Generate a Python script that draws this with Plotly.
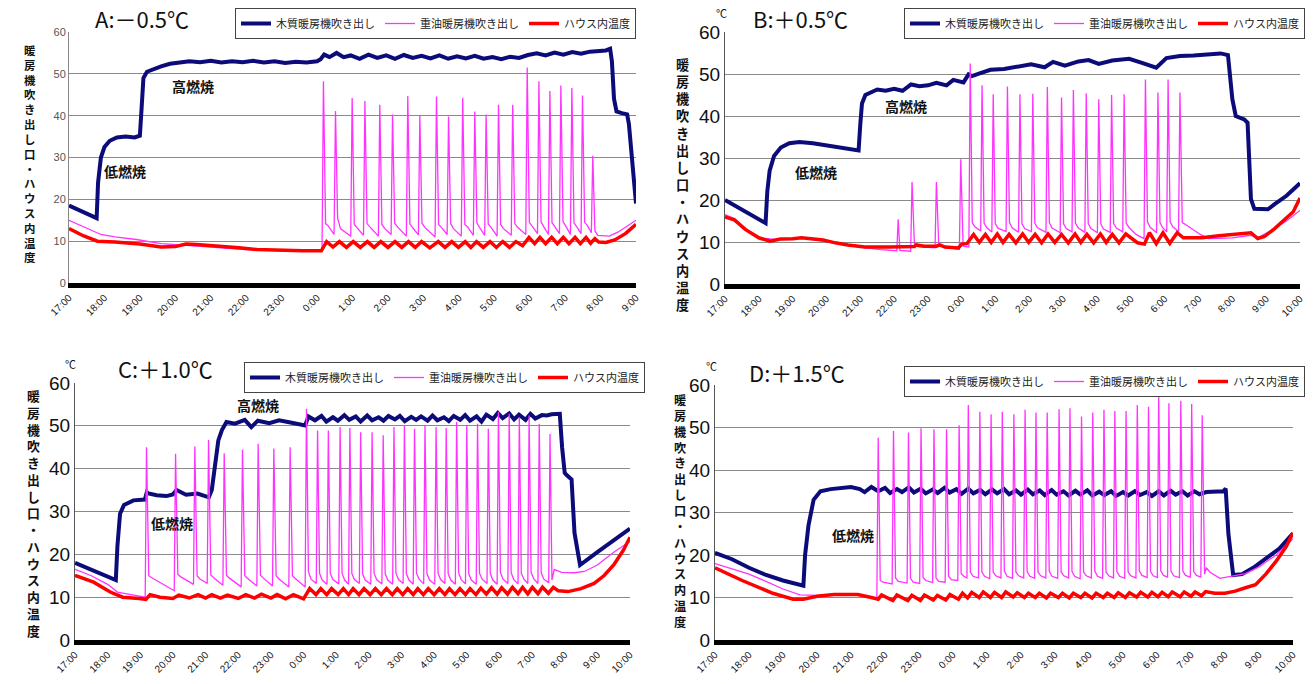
import plotly.graph_objects as go

W, H = 1314, 684

# ---------------- data (hours after 17:00, temperature degC) ----------------
TICKS_A = ["17:00","18:00","19:00","20:00","21:00","22:00","23:00","0:00","1:00","2:00",
           "3:00","4:00","5:00","6:00","7:00","8:00","9:00"]
TICKS_BCD = TICKS_A + ["10:00"]

NAMES = ["木質暖房機吹き出し", "重油暖房機吹き出し", "ハウス内温度"]

A_wood = [(0,18.5),(0.78,15.5),(0.82,24),(0.9,30),(1.0,32.5),(1.15,34.0),(1.35,34.8),(1.6,35.0),(1.85,34.8),(2.0,35.2),
          (2.05,42),(2.1,49),(2.2,50.5),(2.4,51.2),(2.6,51.8),(2.85,52.4),(3.1,52.6),(3.4,53.0),(3.7,52.8),(4.0,53.1),
          (4.3,52.7),(4.6,53.0),(4.9,52.8),(5.2,53.1),(5.5,52.7),(5.8,53.0),(6.1,52.6),(6.4,52.9),(6.7,52.7),(7.0,53.0),
          (7.1,53.5),(7.2,54.6),(7.35,54.0),(7.55,55.0),(7.75,54.0),(7.95,54.4),(8.2,53.6),(8.45,54.6),(8.7,53.8),(8.95,54.4),
          (9.2,53.6),(9.45,54.5),(9.7,53.8),(9.95,54.3),(10.2,53.7),(10.45,54.4),(10.7,53.6),(10.95,54.2),(11.2,53.7),(11.45,54.3),
          (11.7,53.6),(11.95,54.0),(12.2,53.5),(12.45,54.1),(12.7,53.8),(12.95,54.5),(13.2,54.9),(13.45,54.4),(13.7,55.1),(13.95,54.6),
          (14.2,55.2),(14.45,54.8),(14.7,55.3),(14.95,55.4),(15.15,55.6),(15.27,56.0),(15.32,53),(15.38,44),(15.45,41.0),(15.6,40.6),
          (15.75,40.3),(15.8,38),(15.9,27),(16.0,19.0)]
A_oil = [(0,15.0),(0.4,13.5),(0.9,11.6),(1.3,11.0),(1.9,10.4),(2.6,9.4),(3.2,9.1),(4.0,8.6),(5.0,8.0),(6.0,7.7),(7.14,7.6),
         (7.18,48.2),(7.24,14.2),(7.32,13.6),(7.48,11.6),
         (7.52,41.1),(7.58,15.5),(7.66,13.0),(7.95,11.2),
         (7.99,44.2),(8.05,14.0),(8.13,13.2),(8.31,11.4),
         (8.35,43.5),(8.41,14.2),(8.49,13.4),(8.73,11.2),
         (8.77,42.6),(8.83,14.0),(8.91,13.0),(9.09,11.6),
         (9.13,40.3),(9.19,14.3),(9.27,13.4),(9.52,11.2),
         (9.56,44.7),(9.62,14.1),(9.70,13.2),(9.86,11.5),
         (9.90,40.0),(9.96,14.3),(10.04,13.3),(10.33,11.0),
         (10.37,44.6),(10.43,14.0),(10.51,13.3),(10.67,11.6),
         (10.71,39.8),(10.77,14.2),(10.85,13.0),(11.07,11.2),
         (11.11,44.3),(11.17,14.0),(11.25,13.4),(11.41,11.4),
         (11.45,41.0),(11.51,14.4),(11.59,13.2),(11.73,11.4),
         (11.77,40.3),(11.83,14.1),(11.91,13.3),(12.08,11.2),
         (12.12,42.6),(12.18,14.0),(12.26,13.0),(12.48,11.4),
         (12.52,42.6),(12.58,14.2),(12.66,13.3),(12.89,11.6),
         (12.93,51.5),(12.99,14.5),(13.07,13.6),(13.22,11.8),
         (13.26,48.2),(13.32,14.6),(13.40,13.4),(13.53,11.6),
         (13.57,45.9),(13.63,14.4),(13.71,13.5),(13.84,11.8),
         (13.88,47.2),(13.94,14.7),(14.02,13.6),(14.15,11.6),
         (14.19,46.6),(14.25,14.4),(14.33,13.4),(14.45,11.8),
         (14.49,44.8),(14.55,14.5),(14.63,13.7),(14.74,12.0),
         (14.78,30.4),(14.84,12.5),(14.92,11.4),(15.25,11.2),(15.5,12.2),(15.75,13.6),(16.0,15.0)]
A_house = [(0,13.0),(0.4,11.3),(0.8,10.0),(1.3,9.8),(2.0,9.3),(2.6,8.6),(3.0,8.7),(3.3,9.3),(3.6,9.2),(4.2,8.7),
           (4.8,8.4),(5.3,8.0),(6.0,7.8),(6.6,7.7),(7.12,7.7),
           (7.27,9.9),(7.45,8.6),(7.63,9.9),(7.83,8.5),(8.02,9.9),(8.22,8.5),(8.42,9.9),(8.61,8.5),(8.80,9.9),(9.0,8.5),
           (9.20,9.9),(9.39,8.5),(9.58,9.9),(9.77,8.5),(9.95,9.9),(10.18,8.4),(10.42,9.9),(10.61,8.5),(10.80,9.9),(10.99,8.5),
           (11.18,9.9),(11.34,8.5),(11.50,9.9),(11.69,8.5),(11.88,9.9),(12.06,8.5),(12.24,9.9),(12.43,8.5),(12.61,9.9),(12.8,8.9),
           (12.98,10.9),(13.14,9.4),(13.29,10.9),(13.45,9.4),(13.62,10.9),(13.78,9.4),(13.95,10.9),(14.11,9.4),(14.28,10.9),(14.43,9.4),
           (14.59,10.9),(14.72,9.5),(14.84,10.6),(14.95,9.8),(15.15,9.7),(15.4,10.3),(15.7,11.8),(16.0,14.0)]

B_wood = [(0,20.0),(1.2,14.5),(1.25,22),(1.32,27),(1.45,30.5),(1.65,32.5),(1.9,33.5),(2.2,33.8),(2.6,33.5),(3.0,33.0),
          (3.4,32.3),(3.8,31.8),(3.95,31.8),(4.0,38),(4.05,43),(4.15,45.0),(4.3,45.6),(4.5,46.3),(4.75,46.0),(5.0,46.5),
          (5.25,46.0),(5.5,47.5),(5.75,47.1),(6.0,47.3),(6.25,47.9),(6.55,47.3),(6.75,48.6),(7.05,48.0),(7.2,49.9),(7.3,49.5),
          (7.55,50.2),(7.85,51.0),(8.25,51.2),(8.55,51.7),(9.05,52.3),(9.45,51.6),(9.7,52.9),(10.05,52.0),(10.45,53.0),(10.75,53.3),
          (11.05,52.4),(11.45,53.2),(11.95,53.6),(12.35,52.6),(12.75,51.5),(13.05,53.8),(13.45,54.3),(13.85,54.4),(14.25,54.7),(14.65,54.9),
          (14.87,54.5),(15.0,44),(15.1,40),(15.35,39.2),(15.45,38.4),(15.55,20.2),(15.65,17.9),(16.05,17.8),(16.25,19.0),(16.6,21.0),(17.0,24.0)]
B_oil = [(0,16.5),(0.3,15.5),(0.7,12.5),(1.0,11.0),(1.5,10.6),(2.0,10.8),(2.3,11.0),(2.9,10.2),(3.4,9.5),(4.0,8.8),
         (4.6,8.2),(5.08,7.9),(5.12,15.4),(5.17,8.0),(5.49,7.8),(5.53,24.3),(5.6,9.5),(5.7,8.9),(6.21,8.6),(6.25,24.3),
         (6.32,9.3),(6.45,8.8),(6.93,8.3),(6.97,29.7),(7.04,9.0),(7.21,8.8),
         (7.25,52.5),(7.31,14.6),(7.39,13.6),(7.56,12.6),
         (7.60,47.3),(7.66,14.5),(7.74,13.4),(7.89,12.4),
         (7.93,45.2),(7.99,14.4),(8.07,13.3),(8.31,12.5),
         (8.35,47.0),(8.41,14.6),(8.49,13.4),(8.68,12.3),
         (8.72,45.2),(8.78,14.3),(8.86,13.2),(9.06,12.5),
         (9.10,45.3),(9.16,14.5),(9.24,13.4),(9.49,12.3),
         (9.53,46.9),(9.59,14.6),(9.67,13.3),(9.91,12.2),
         (9.95,44.4),(10.01,14.3),(10.09,13.2),(10.26,12.4),
         (10.30,46.2),(10.36,14.5),(10.44,13.4),(10.64,12.3),
         (10.68,45.4),(10.74,14.4),(10.82,13.2),(11.01,12.2),
         (11.05,44.0),(11.11,14.3),(11.19,13.1),(11.39,12.3),
         (11.43,45.0),(11.49,14.4),(11.57,13.3),(11.76,12.4),
         (11.80,45.2),(11.86,14.5),(11.95,13.4),(12.15,11.8),(12.39,10.8),
         (12.43,48.7),(12.49,14.8),(12.57,13.5),(12.76,12.2),
         (12.80,45.6),(12.86,14.6),(12.94,13.4),(13.06,12.4),
         (13.10,48.7),(13.16,14.8),(13.24,13.6),(13.41,12.5),
         (13.45,45.6),(13.52,14.6),(13.65,14.0),(14.05,11.8),(14.3,10.8),(15.0,11.0),(15.55,11.6),(15.75,11.0),
         (16.2,13.0),(16.6,15.0),(17.0,17.5)]
B_house = [(0,16.0),(0.27,15.3),(0.6,13.0),(1.0,11.0),(1.33,10.2),(1.64,10.7),(2.0,10.8),(2.26,11.0),(2.9,10.5),(3.26,9.8),
           (3.63,9.3),(4.13,8.8),(4.88,8.8),(5.37,8.9),(5.6,8.9),(5.65,9.3),(5.9,9.0),(6.25,9.0),(6.35,9.3),(6.5,8.8),
           (6.9,8.6),(7.0,9.5),(7.15,9.6),
           (7.35,11.8),(7.52,9.9),(7.7,11.8),(7.87,9.9),(8.05,11.9),(8.22,9.9),(8.4,11.8),(8.6,9.8),(8.8,11.9),(8.98,9.9),
           (9.17,11.8),(9.36,9.8),(9.55,11.9),(9.75,9.9),(9.95,11.8),(10.15,9.8),(10.35,11.9),(10.52,9.9),(10.7,11.8),(10.9,9.8),
           (11.1,11.9),(11.27,9.9),(11.45,11.8),(11.65,9.8),(11.85,11.9),(12.2,9.8),(12.4,9.5),(12.55,12.2),(12.75,9.6),(12.95,12.2),
           (13.15,9.7),(13.37,12.2),(13.55,11.0),(14.1,11.0),(14.6,11.5),(15.2,12.0),(15.55,12.2),(15.75,10.8),(15.95,11.3),(16.25,13.2),
           (16.5,15.0),(16.8,17.2),(17.0,20.5)]

C_wood = [(0,18.0),(1.25,14.0),(1.3,22),(1.38,29.5),(1.5,31.5),(1.79,32.6),(2.14,32.8),(2.2,34.5),(2.25,34.2),(2.5,33.8),
          (2.8,33.6),(3.0,34.0),(3.11,35.0),(3.4,33.9),(3.75,34.2),(4.1,33.3),(4.19,35.0),(4.29,41),(4.39,46.6),(4.5,49),
          (4.64,50.9),(4.9,50.5),(5.2,51.4),(5.4,49.7),(5.6,51.2),(5.95,50.6),(6.25,51.3),(6.6,50.8),(7.05,50.1),(7.15,52.2),
          (7.35,51.3),(7.55,52.3),(7.7,51.0),(7.9,52.0),(8.05,51.2),(8.25,52.5),(8.4,51.4),(8.6,52.2),(8.75,51.0),(8.95,52.4),
          (9.1,51.3),(9.3,52.0),(9.45,51.2),(9.6,52.3),(9.8,51.5),(9.95,52.3),(10.1,51.1),(10.3,52.1),(10.45,51.4),(10.6,52.2),
          (10.8,51.2),(10.95,52.4),(11.1,51.3),(11.3,52.0),(11.45,51.1),(11.6,52.3),(11.8,51.4),(11.95,52.5),(12.1,51.2),(12.3,52.2),
          (12.45,51.0),(12.6,52.6),(12.8,51.6),(12.95,53.0),(13.1,51.8),(13.3,52.9),(13.45,51.5),(13.6,52.6),(13.8,51.4),(13.95,52.8),
          (14.1,51.7),(14.3,52.5),(14.45,52.4),(14.6,52.7),(14.85,52.8),(14.92,45),(15.0,39),(15.06,38.5),(15.21,37.5),(15.3,25),
          (15.47,17.5),(16.0,20.5),(16.5,23.2),(17.0,26.0)]
C_oil = [(0,16.5),(0.5,15.0),(1.0,13.0),(1.3,11.2),(1.8,10.5),(2.15,10.0),
         (2.19,45.0),(2.26,15.0),(2.34,14.6),(3.04,11.5),
         (3.08,43.5),(3.15,15.3),(3.23,14.8),(3.63,13.0),
         (3.67,45.2),(3.74,15.0),(3.82,14.3),(4.05,13.2),
         (4.09,46.7),(4.16,15.2),(4.24,14.6),(4.53,12.8),
         (4.57,43.6),(4.64,15.1),(4.72,14.5),(5.09,12.4),
         (5.13,44.4),(5.20,15.0),(5.28,14.4),(5.57,12.6),
         (5.61,45.8),(5.68,15.1),(5.76,14.5),(6.05,12.6),
         (6.09,44.7),(6.16,15.0),(6.24,14.3),(6.55,12.4),
         (6.59,45.0),(6.66,15.0),(6.74,14.4),(7.05,12.4),
         (7.09,54.0),(7.15,16.0),(7.23,14.2),(7.39,13.2),
         (7.43,48.9),(7.49,15.6),(7.57,14.0),(7.72,13.0),
         (7.76,48.9),(7.82,15.5),(7.90,14.1),(8.08,13.1),
         (8.12,49.7),(8.18,15.6),(8.26,14.0),(8.38,13.0),
         (8.42,49.5),(8.48,15.5),(8.56,14.1),(8.71,13.2),
         (8.75,48.5),(8.81,15.4),(8.89,14.0),(9.06,13.0),
         (9.10,48.5),(9.16,15.6),(9.24,14.1),(9.40,13.1),
         (9.44,47.8),(9.50,15.5),(9.58,14.0),(9.73,13.0),
         (9.77,49.7),(9.83,15.6),(9.91,14.1),(10.05,13.2),
         (10.09,50.1),(10.15,15.5),(10.23,14.0),(10.36,13.0),
         (10.40,49.3),(10.46,15.6),(10.54,14.2),(10.68,13.1),
         (10.72,50.1),(10.78,15.5),(10.86,14.0),(11.02,13.0),
         (11.06,49.7),(11.12,15.6),(11.20,14.1),(11.33,13.2),
         (11.37,49.5),(11.43,15.5),(11.51,14.0),(11.65,13.0),
         (11.69,50.9),(11.75,15.7),(11.83,14.1),(11.96,13.1),
         (12.00,50.1),(12.06,15.5),(12.14,14.0),(12.29,13.0),
         (12.33,50.5),(12.39,15.6),(12.47,14.2),(12.62,13.2),
         (12.66,49.3),(12.72,15.5),(12.80,14.0),(12.93,13.0),
         (12.97,53.2),(13.03,15.8),(13.11,14.2),(13.26,13.2),
         (13.30,52.8),(13.36,15.7),(13.44,14.1),(13.57,13.1),
         (13.61,52.0),(13.67,15.6),(13.75,14.2),(13.87,13.2),
         (13.91,52.4),(13.97,15.8),(14.05,14.3),(14.18,13.2),
         (14.22,50.5),(14.28,15.7),(14.36,14.2),(14.51,13.4),
         (14.55,48.1),(14.61,14.0),(14.68,16.5),(14.9,15.8),(15.3,15.7),(15.6,16.0),(16.0,17.5),(16.5,20.5),(17.0,23.0)]
C_house = [(0,15.1),(0.57,13.5),(1.08,11.2),(1.46,10.0),(1.97,9.7),(2.17,9.5),
           (2.3,10.6),(2.6,10.0),(3.0,9.7),(3.18,10.5),(3.5,9.8),(3.77,10.6),(4.0,9.8),(4.19,10.6),(4.45,9.8),(4.67,10.5),
           (5.0,9.7),(5.23,10.6),(5.5,9.8),(5.71,10.7),(6.0,9.8),(6.19,10.6),(6.45,9.6),(6.69,10.6),(7.0,9.6),
           (7.19,12.0),(7.38,10.6),(7.53,12.0),(7.71,10.6),(7.86,12.0),(8.06,10.6),(8.22,12.0),(8.38,10.6),(8.52,12.0),(8.7,10.6),
           (8.85,12.0),(9.04,10.6),(9.2,12.0),(9.38,10.6),(9.54,12.0),(9.72,10.6),(9.87,12.0),(10.04,10.6),(10.19,12.0),(10.36,10.6),
           (10.5,12.0),(10.67,10.6),(10.82,12.0),(11.0,10.6),(11.16,12.0),(11.33,10.6),(11.47,12.0),(11.64,10.6),(11.79,12.0),(11.96,10.6),
           (12.1,12.0),(12.28,10.6),(12.43,12.1),(12.6,10.7),(12.76,12.2),(12.93,10.7),(13.07,12.2),(13.25,10.7),(13.4,12.3),(13.57,10.8),
           (13.71,12.3),(13.87,10.8),(14.01,12.3),(14.18,10.8),(14.32,12.3),(14.5,10.9),(14.65,12.3),(14.8,11.5),(15.1,11.3),(15.5,12.0),
           (15.9,13.2),(16.2,15.0),(16.5,17.5),(16.8,21.0),(17.0,24.0)]

D_wood = [(0,20.5),(0.5,19.0),(1.0,17.0),(1.5,15.3),(2.0,14.0),(2.6,12.8),(2.65,20),(2.75,27),(2.9,33),(3.1,35.0),
          (3.4,35.5),(3.7,35.8),(4.0,36.0),(4.26,35.5),
          (4.4,34.8),(4.6,36.0),(4.8,35.0),(5.0,35.8),(5.15,34.6),(5.35,35.5),(5.5,34.8),(5.7,35.9),(5.85,34.7),(6.05,35.6),
          (6.2,34.5),(6.4,35.4),(6.55,34.6),(6.75,35.8),(6.9,34.7),(7.1,35.5),(7.25,34.4),(7.45,35.6),(7.6,34.5),(7.8,35.3),
          (7.95,34.3),(8.15,35.4),(8.3,34.5),(8.5,35.5),(8.65,34.3),(8.85,35.2),(9.0,34.2),(9.2,35.4),(9.35,34.3),(9.55,35.2),
          (9.7,34.1),(9.9,35.3),(10.05,34.2),(10.25,35.0),(10.4,34.0),(10.6,35.1),(10.75,34.2),(10.95,35.2),(11.1,34.0),(11.3,34.9),
          (11.45,34.1),(11.65,35.0),(11.8,33.9),(12.0,34.8),(12.15,34.0),(12.35,35.0),(12.5,34.1),(12.7,34.8),(12.85,33.9),(13.05,35.0),
          (13.2,34.0),(13.4,35.1),(13.55,34.2),(13.75,35.0),(13.9,34.0),(14.1,35.0),(14.25,34.3),(14.45,34.8),(14.7,34.9),(14.95,35.0),
          (15.02,35.6),(15.1,25),(15.24,15.3),(15.5,15.5),(15.83,17.0),(16.32,19.8),(16.6,21.5),(17.0,25.1)]
D_oil = [(0,18.0),(0.5,16.8),(1.0,15.5),(1.5,13.8),(2.0,12.0),(2.5,10.6),(3.0,10.5),(3.5,10.7),(4.2,10.6),(4.6,10.0),(4.76,9.8),
         (4.80,47.6),(4.86,14.0),(4.94,13.6),(5.21,13.2),
         (5.25,49.2),(5.31,14.6),(5.39,13.8),(5.65,13.4),
         (5.69,48.8),(5.75,14.5),(5.83,13.6),(6.02,13.3),
         (6.06,49.8),(6.12,14.7),(6.20,14.0),(6.40,13.5),
         (6.44,49.6),(6.50,14.6),(6.58,13.8),(6.77,13.6),
         (6.81,49.6),(6.87,15.0),(6.95,14.2),(7.14,14.0),
         (7.18,50.5),(7.24,15.6),(7.32,15.0),(7.41,14.6),
         (7.45,55.3),(7.51,16.0),(7.59,15.0),(7.75,14.6),
         (7.79,53.7),(7.85,16.0),(7.93,15.0),(8.08,14.4),
         (8.12,53.1),(8.18,16.0),(8.26,15.1),(8.41,14.6),
         (8.45,53.7),(8.51,16.2),(8.59,15.0),(8.75,14.5),
         (8.79,53.1),(8.85,16.0),(8.93,15.1),(9.08,14.6),
         (9.12,54.2),(9.18,16.1),(9.26,15.0),(9.40,14.5),
         (9.44,53.5),(9.50,16.0),(9.58,15.1),(9.73,14.6),
         (9.77,53.5),(9.83,16.2),(9.91,15.0),(10.08,14.5),
         (10.12,54.3),(10.18,16.0),(10.26,15.1),(10.40,14.6),
         (10.44,54.5),(10.50,16.1),(10.58,15.0),(10.74,14.4),
         (10.78,52.6),(10.84,16.0),(10.92,15.1),(11.07,14.6),
         (11.11,53.5),(11.17,16.2),(11.25,15.0),(11.40,14.5),
         (11.44,54.2),(11.50,16.0),(11.58,15.1),(11.72,14.6),
         (11.76,53.9),(11.82,16.1),(11.90,15.0),(12.05,14.5),
         (12.09,53.9),(12.15,16.0),(12.23,15.1),(12.38,14.6),
         (12.42,55.3),(12.48,16.2),(12.56,15.2),(12.71,14.7),
         (12.75,54.9),(12.81,16.1),(12.89,15.1),(13.01,14.7),
         (13.05,57.5),(13.11,16.3),(13.19,15.2),(13.31,14.8),
         (13.35,55.7),(13.41,16.2),(13.49,15.1),(13.66,14.7),
         (13.70,56.3),(13.76,16.2),(13.84,15.2),(13.98,14.8),
         (14.02,55.5),(14.08,16.1),(14.16,15.2),(14.29,14.8),
         (14.33,52.9),(14.40,15.5),(14.45,17.0),(14.55,16.0),(14.85,14.5),(15.2,15.0),(15.6,15.6),(16.0,17.2),(16.5,20.0),(17.0,23.8)]
D_house = [(0,17.0),(0.8,14.0),(1.7,11.0),(2.3,9.6),(2.6,9.6),(3.0,10.3),(3.5,10.7),(4.2,10.7),(4.6,10.0),(4.8,9.6),
           (4.9,10.6),(5.23,9.3),(5.35,10.6),(5.67,9.3),(5.79,10.5),(6.04,9.3),(6.16,10.6),(6.42,9.4),(6.54,10.5),(6.79,9.4),
           (6.91,10.7),(7.16,9.6),(7.28,11.0),(7.43,9.9),(7.55,11.2),(7.77,10.0),(7.89,11.3),(8.1,10.0),(8.22,11.2),(8.43,10.0),
           (8.55,11.3),(8.77,10.1),(8.89,11.1),(9.1,10.0),(9.22,11.0),(9.42,10.0),(9.54,11.0),(9.75,9.9),(9.87,11.0),(10.1,10.0),
           (10.22,11.0),(10.42,9.9),(10.54,11.0),(10.76,10.0),(10.88,11.0),(11.09,9.9),(11.21,11.0),(11.42,10.0),(11.54,11.0),(11.74,10.0),
           (11.86,11.1),(12.07,10.0),(12.19,11.1),(12.4,10.1),(12.52,11.2),(12.73,10.1),(12.85,11.2),(13.03,10.2),(13.15,11.2),(13.33,10.2),
           (13.45,11.3),(13.68,10.2),(13.8,11.3),(14.0,10.3),(14.12,11.3),(14.31,10.4),(14.43,11.4),(14.7,11.0),(15.0,11.0),(15.3,11.5),
           (15.6,12.3),(15.9,13.0),(16.2,15.5),(16.5,18.5),(16.8,22.0),(17.0,25.2)]

# ---------------- styling / layout ----------------
FONT = "Noto Sans CJK JP"
NUMFONT = "Liberation Sans"
COLORS = ["#0b0b7a", "#ff33ff", "#ff0000"]
WIDTHS = [4, 1.3, 3.5]

def px(x):
    return x / W

def py(y):
    return 1 - y / H

panels = [
    ("A", (A_wood, A_oil, A_house), "x", "y", "legend", 69, 636, 32, 283, 16, TICKS_A,
     dict(size=11, color="#555", family=NUMFONT), "#888"),
    ("B", (B_wood, B_oil, B_house), "x2", "y2", "legend2", 725, 1300, 32, 284, 17, TICKS_BCD,
     dict(size=19, color="#111", family=NUMFONT), "#555"),
    ("C", (C_wood, C_oil, C_house), "x3", "y3", "legend3", 75, 630, 383, 640, 17, TICKS_BCD,
     dict(size=19, color="#111", family=NUMFONT), "#555"),
    ("D", (D_wood, D_oil, D_house), "x4", "y4", "legend4", 715, 1293, 385, 640, 17, TICKS_BCD,
     dict(size=19, color="#111", family=NUMFONT), "#555"),
]

fig = go.Figure()
layout = dict(
    width=W, height=H, margin=dict(l=0, r=0, t=0, b=0, autoexpand=False),
    paper_bgcolor="white", plot_bgcolor="white",
    font=dict(family=FONT, color="#111"),
    showlegend=True,
)

legend_pos = {
    "legend": (636, 8),
    "legend2": (1305, 8),
    "legend3": (645, 362),
    "legend4": (1305, 366),
}

for key, series, xa, ya, leg, l, r, t, b, hours, ticks, ytf, axcol in panels:
    for i in (0, 1, 2):
        xs, ys = zip(*series[i])
        fig.add_trace(go.Scatter(
            x=list(xs), y=list(ys), mode="lines", name=NAMES[i],
            line=dict(color=COLORS[i], width=WIDTHS[i]),
            xaxis=xa, yaxis=ya, legend=leg, hoverinfo="skip",
        ))
    xname = "xaxis" if xa == "x" else "xaxis" + xa[1:]
    yname = "yaxis" if ya == "y" else "yaxis" + ya[1:]
    layout[xname] = dict(
        domain=[px(l), px(r)], anchor=ya, range=[0, hours],
        tickmode="array", tickvals=list(range(hours + 1)), ticktext=ticks,
        tickangle=-45, tickfont=dict(size=10, color="#111", family=NUMFONT),
        showgrid=False, zeroline=False, showline=True, linecolor="black", linewidth=5,
        ticks="", fixedrange=True, automargin=False,
    )
    layout[yname] = dict(
        domain=[py(b), py(t)], anchor=xa, range=[0, 60], dtick=10,
        tickfont=ytf, showgrid=True, gridcolor="#8a8a8a", gridwidth=1,
        zeroline=False, showline=True, linecolor=axcol, linewidth=1, ticks="",
        fixedrange=True, automargin=False,
    )
    lx, ly = legend_pos[leg]
    layout[leg] = dict(
        x=px(lx), y=py(ly), xanchor="right", yanchor="top", xref="paper", yref="paper",
        orientation="h", bgcolor="white", bordercolor="#444", borderwidth=1,
        font=dict(size=11, family=FONT, color="#222"), itemwidth=30, tracegroupgap=0,
    )

annotations = []

def ann(x, y, text, size, bold=False, color="#111", family=FONT):
    annotations.append(dict(
        x=px(x), y=py(y), xref="paper", yref="paper", showarrow=False,
        text=("<b>%s</b>" % text) if bold else text,
        font=dict(size=size, color=color, family=family), xanchor="center", yanchor="middle",
    ))

# panel titles
ann(142, 18, "A:－0.5℃", 22)
ann(800, 18, "B:＋0.5℃", 22)
ann(165, 368, "C:＋1.0℃", 22)
ann(797, 372, "D:＋1.5℃", 22)
# degree units (superscript beside the 60 label)
ann(721, 13, "℃", 11)
ann(70, 364, "℃", 11)
ann(711, 366, "℃", 11)
# combustion labels
ann(193, 86, "高燃焼", 14, bold=True)
ann(906, 106, "高燃焼", 14, bold=True)
ann(258, 405, "高燃焼", 14, bold=True)
ann(125, 171, "低燃焼", 14, bold=True)
ann(816, 172, "低燃焼", 14, bold=True)
ann(172, 523, "低燃焼", 14, bold=True)
ann(853, 535, "低燃焼", 14, bold=True)

# vertical y-axis titles (one character per line, single text block)
YTITLE = "暖房機吹き出し口・ハウス内温度"
vt = "<br>".join(YTITLE)
for (cx, cy, size) in [(30, 153, 11.4), (682, 184, 13.2), (33, 513, 12.9), (680, 511, 12.2)]:
    ann(cx, cy, "<b>%s</b>" % vt, size)

layout["annotations"] = annotations
fig.update_layout(**layout)
fig.write_html("out.html", config={"displayModeBar": False, "staticPlot": True},
               post_script="document.body.style.margin='0';document.body.style.padding='0';")
